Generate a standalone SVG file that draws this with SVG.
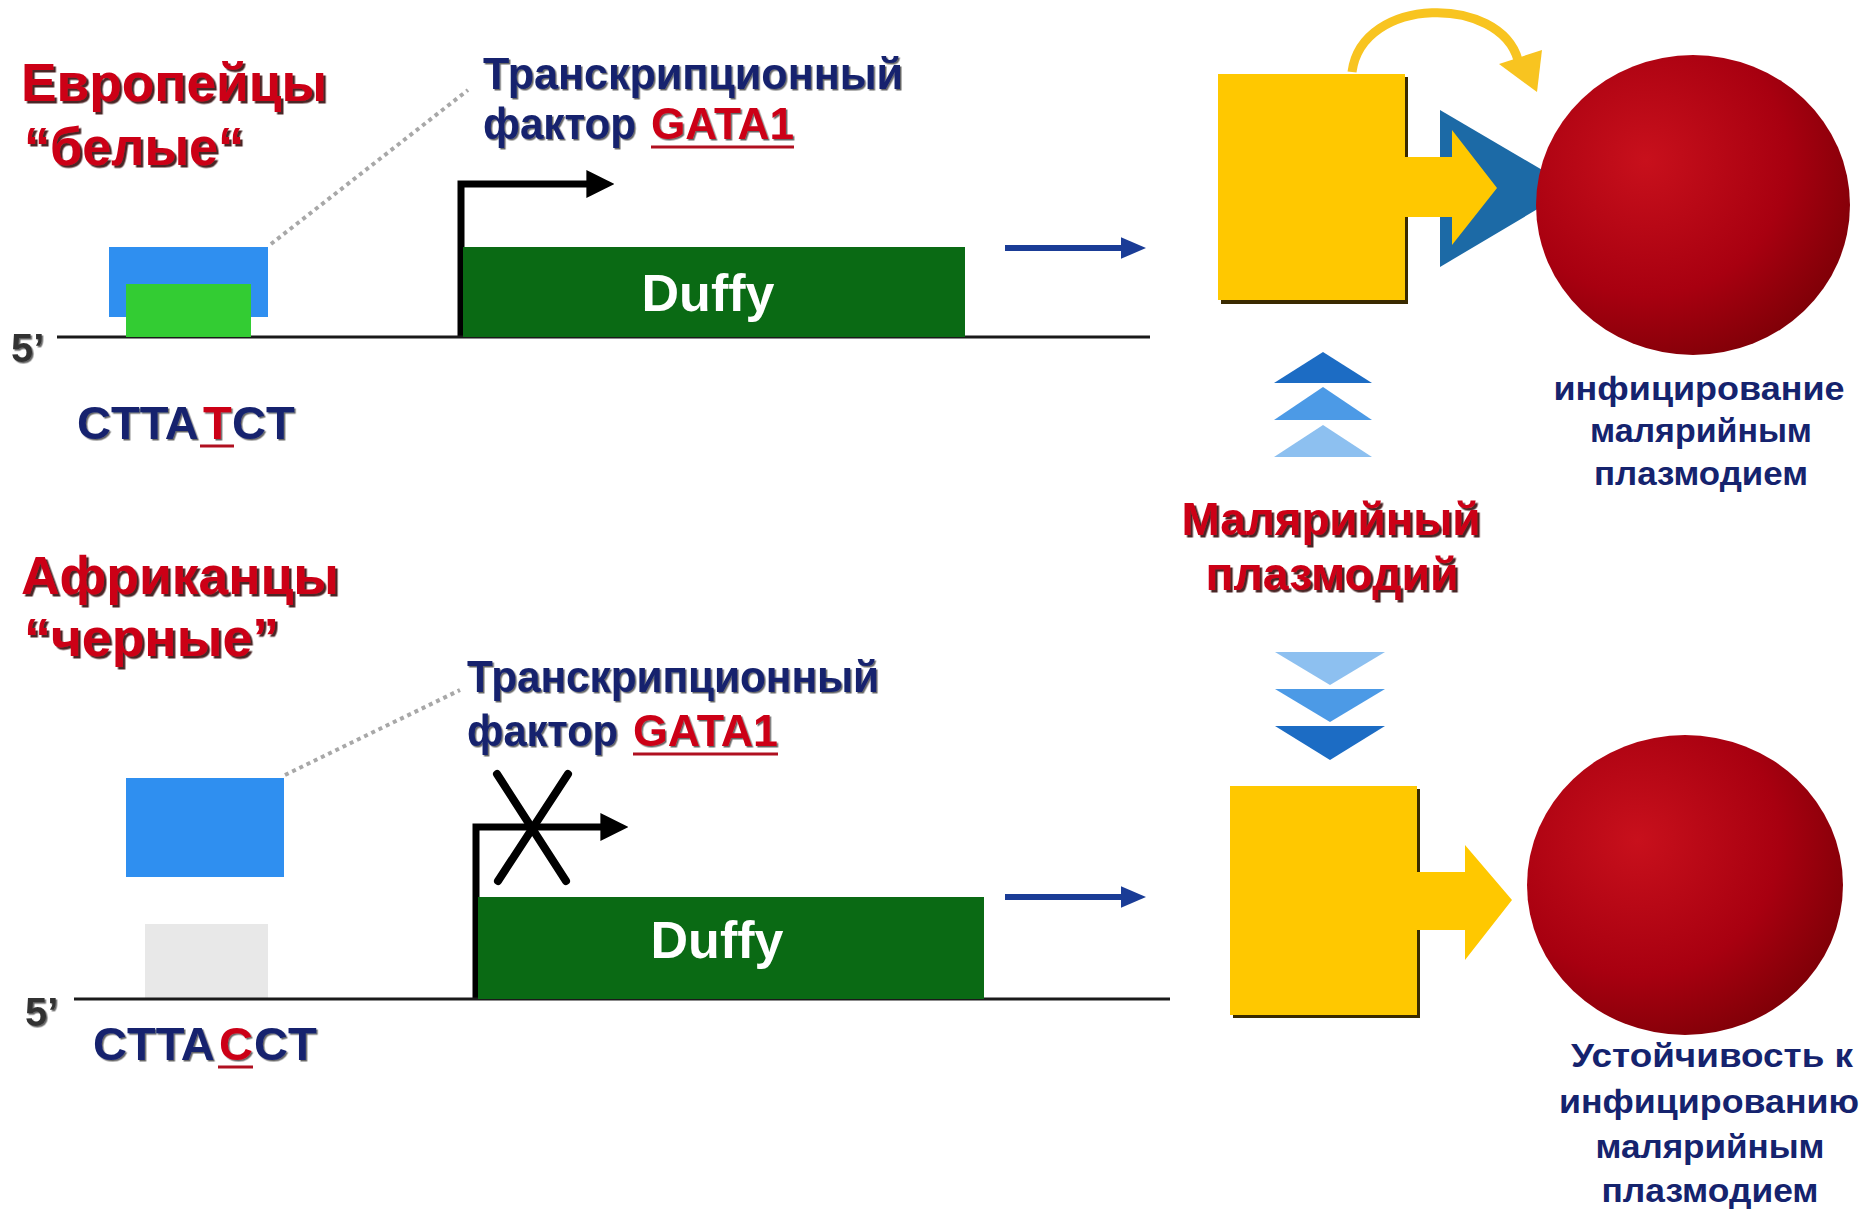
<svg xmlns="http://www.w3.org/2000/svg" width="1863" height="1212" viewBox="0 0 1863 1212">
<defs>
<style>
.t{font-family:"Liberation Sans",Arial,sans-serif;font-weight:bold}
.red{fill:#cc0018}
.navy{fill:#15236e}
.dna{stroke:#1a1a1a;stroke-width:3;fill:none}
.prom{stroke:#000;stroke-width:7;fill:none}
.dot{stroke:#a8a8a8;stroke-width:4;stroke-dasharray:4 4;fill:none}
.barr{stroke:#1a3c96;stroke-width:6;fill:none}
.duffy{fill:#0a6a14}
.yel{fill:#ffc800}
.ul{stroke:#b01020;stroke-width:3}
</style>
<filter id="sh" x="-5%" y="-10%" width="115%" height="130%">
<feDropShadow dx="2.5" dy="2.5" stdDeviation="0.6" flood-color="#2a0000" flood-opacity="0.85"/>
</filter>
<filter id="sh2" x="-5%" y="-10%" width="115%" height="130%">
<feDropShadow dx="1.5" dy="1.5" stdDeviation="0.5" flood-color="#000" flood-opacity="0.6"/>
</filter>
<radialGradient id="rbc" cx="0.35" cy="0.35" r="0.75">
<stop offset="0" stop-color="#c8101c"/>
<stop offset="0.6" stop-color="#a80010"/>
<stop offset="1" stop-color="#7a0006"/>
</radialGradient>
<marker id="ah" viewBox="0 0 10 10" refX="2" refY="5" markerWidth="4" markerHeight="4" orient="auto">
<path d="M0,0 L10,5 L0,10 z" fill="#000"/>
</marker>
<marker id="bh" viewBox="0 0 10 10" refX="2" refY="5" markerWidth="4.2" markerHeight="3.6" orient="auto" preserveAspectRatio="none">
<path d="M0,0 L10,5 L0,10 z" fill="#1a3c96"/>
</marker>
</defs>
<rect width="1863" height="1212" fill="#fff"/>

<g id="connectors">
<line class="dot" x1="271" y1="244" x2="468" y2="90"/>
<line class="dot" x1="285" y1="775" x2="460" y2="690"/>
<polyline class="prom" points="461,337 461,184 592,184" marker-end="url(#ah)"/>
<polyline class="prom" points="476,999 476,827 606,827" marker-end="url(#ah)"/>
<line class="barr" x1="1005" y1="248" x2="1126" y2="248" marker-end="url(#bh)"/>
<line class="barr" x1="1005" y1="897" x2="1126" y2="897" marker-end="url(#bh)"/>
<g id="block-x" stroke="#000" stroke-width="8" stroke-linecap="round">
<line x1="497" y1="774" x2="566" y2="881"/>
<line x1="568" y1="774" x2="498" y2="881"/>
</g>
<path d="M1352,72 C1362,-5 1500,-5 1518,60" fill="none" stroke="#f8c420" stroke-width="9"/>
<polygon points="1499,64 1542,50 1537,92" fill="#f8c420"/>
</g>

<g id="europeans-label">
<text class="t red" x="21" y="101" font-size="54" textLength="306" lengthAdjust="spacingAndGlyphs" filter="url(#sh)">Европейцы</text>
<text class="t red" x="24" y="165" font-size="54" textLength="220" lengthAdjust="spacingAndGlyphs" filter="url(#sh)">“белые“</text>
</g>

<g id="top-dna">
<line class="dna" x1="57" y1="337" x2="1150" y2="337"/>
<text class="t" x="11" y="362" font-size="40" fill="#333" filter="url(#sh2)">5’</text>
</g>

<g id="top-gata1">
<rect x="109" y="247" width="159" height="70" fill="#2f8ff0"/>
<rect x="126" y="284" width="125" height="53" fill="#33cc33"/>
</g>

<g id="top-tf-label">
<text class="t navy" x="483" y="89" font-size="44" textLength="420" lengthAdjust="spacingAndGlyphs" filter="url(#sh2)">Транскрипционный</text>
<text class="t navy" x="483" y="139" font-size="44" textLength="153" lengthAdjust="spacingAndGlyphs" filter="url(#sh2)">фактор</text>
<text class="t red" x="651" y="139" font-size="44" textLength="143" lengthAdjust="spacingAndGlyphs" filter="url(#sh2)">GATA1</text>
<line class="ul" x1="651" y1="147" x2="794" y2="147"/>
</g>

<g id="top-seq">
<text class="t navy" x="77" y="439" font-size="47" filter="url(#sh2)">CTTA</text>
<text class="t red" x="203" y="439" font-size="47" filter="url(#sh2)">T</text>
<text class="t navy" x="232" y="439" font-size="47" filter="url(#sh2)">CT</text>
<line class="ul" x1="200" y1="446" x2="234" y2="446"/>
</g>

<g id="top-duffy">
<rect class="duffy" x="463" y="247" width="502" height="90"/>
<text class="t" x="708" y="311" font-size="52" fill="#fff" text-anchor="middle">Duffy</text>
</g>

<g id="top-receptor">
<rect x="1221" y="77" width="187" height="227" fill="#3a2a00"/>
<polygon points="1440,110 1573,188 1440,267" fill="#1c6aa6"/>
<path d="M1218,74 H1405 V157 H1452 V130 L1497,188 L1452,245 V217 H1405 V300 H1218 Z" class="yel"/>
</g>

<g id="top-rbc">
<ellipse cx="1693" cy="205" rx="157" ry="150" fill="url(#rbc)"/>
<text class="t navy" x="1699" y="400" font-size="34" text-anchor="middle" textLength="291" lengthAdjust="spacingAndGlyphs">инфицирование</text>
<text class="t navy" x="1701" y="442" font-size="34" text-anchor="middle" textLength="222" lengthAdjust="spacingAndGlyphs">малярийным</text>
<text class="t navy" x="1701" y="485" font-size="34" text-anchor="middle" textLength="214" lengthAdjust="spacingAndGlyphs">плазмодием</text>
</g>

<g id="plasmodium">
<polygon points="1274,383 1323,352 1372,383" fill="#1c6cc4"/>
<polygon points="1274,420 1323,387 1372,420" fill="#4c9ae6"/>
<polygon points="1274,457 1323,425 1372,457" fill="#8dc0f0"/>
<text class="t red" x="1331" y="535" font-size="46" text-anchor="middle" textLength="299" lengthAdjust="spacingAndGlyphs" filter="url(#sh)">Малярийный</text>
<text class="t red" x="1332" y="590" font-size="46" text-anchor="middle" textLength="253" lengthAdjust="spacingAndGlyphs" filter="url(#sh)">плазмодий</text>
<polygon points="1275,652 1385,652 1330,685" fill="#8dc0f0"/>
<polygon points="1275,689 1385,689 1330,722" fill="#4c9ae6"/>
<polygon points="1275,726 1385,726 1330,760" fill="#1c6cc4"/>
</g>

<g id="africans-label">
<text class="t red" x="21" y="594" font-size="54" textLength="318" lengthAdjust="spacingAndGlyphs" filter="url(#sh)">Африканцы</text>
<text class="t red" x="24" y="656" font-size="54" textLength="255" lengthAdjust="spacingAndGlyphs" filter="url(#sh)">“черные”</text>
</g>

<g id="bottom-gata1">
<rect x="126" y="778" width="158" height="99" fill="#2f8ff0"/>
<rect x="145" y="924" width="123" height="75" fill="#e8e8e8"/>
</g>

<g id="bottom-tf-label">
<text class="t navy" x="467" y="692" font-size="44" textLength="412" lengthAdjust="spacingAndGlyphs" filter="url(#sh2)">Транскрипционный</text>
<text class="t navy" x="467" y="746" font-size="44" textLength="151" lengthAdjust="spacingAndGlyphs" filter="url(#sh2)">фактор</text>
<text class="t red" x="633" y="746" font-size="44" textLength="145" lengthAdjust="spacingAndGlyphs" filter="url(#sh2)">GATA1</text>
<line class="ul" x1="633" y1="754" x2="778" y2="754"/>
</g>

<g id="bottom-dna">
<line class="dna" x1="74" y1="999" x2="1170" y2="999"/>
<text class="t" x="25" y="1026" font-size="40" fill="#333" filter="url(#sh2)">5’</text>
</g>

<g id="bottom-seq">
<text class="t navy" x="93" y="1060" font-size="47" filter="url(#sh2)">CTTA</text>
<text class="t red" x="219" y="1060" font-size="47" filter="url(#sh2)">C</text>
<text class="t navy" x="254" y="1060" font-size="47" filter="url(#sh2)">CT</text>
<line class="ul" x1="218" y1="1067" x2="253" y2="1067"/>
</g>

<g id="bottom-duffy">
<rect class="duffy" x="478" y="897" width="506" height="102"/>
<text class="t" x="717" y="958" font-size="52" fill="#fff" text-anchor="middle">Duffy</text>
</g>

<g id="bottom-receptor">
<rect x="1233" y="789" width="187" height="229" fill="#3a2a00"/>
<path d="M1230,786 H1417 V872 H1465 V845 L1512,900 L1465,960 V930 H1417 V1015 H1230 Z" class="yel"/>
</g>

<g id="bottom-rbc">
<ellipse cx="1685" cy="885" rx="158" ry="150" fill="url(#rbc)"/>
<text class="t navy" x="1712" y="1067" font-size="34" text-anchor="middle" textLength="282" lengthAdjust="spacingAndGlyphs">Устойчивость к</text>
<text class="t navy" x="1709" y="1113" font-size="34" text-anchor="middle" textLength="300" lengthAdjust="spacingAndGlyphs">инфицированию</text>
<text class="t navy" x="1710" y="1158" font-size="34" text-anchor="middle" textLength="229" lengthAdjust="spacingAndGlyphs">малярийным</text>
<text class="t navy" x="1710" y="1202" font-size="34" text-anchor="middle" textLength="217" lengthAdjust="spacingAndGlyphs">плазмодием</text>
</g>
</svg>
